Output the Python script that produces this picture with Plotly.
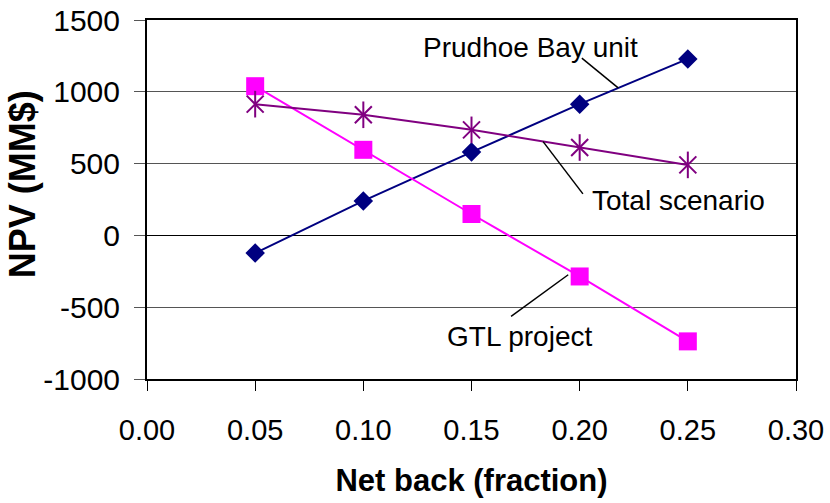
import plotly.graph_objects as go

# Net back fraction and NPV results (MM$) for each case
net_back = [0.05, 0.10, 0.15, 0.20, 0.25]
prudhoe_npv = [-123, 240, 580, 914, 1229]
gtl_npv = [1039, 596, 149, -286, -738]
total_npv = [914, 840, 735, 612, 491]

x_ticks = [0.00, 0.05, 0.10, 0.15, 0.20, 0.25, 0.30]
y_ticks = [-1000, -500, 0, 500, 1000, 1500]
y_tick_text = [str(v) for v in y_ticks]  # plain hyphen for negatives

FONT = "Liberation Sans, Arial, sans-serif"
NAVY = "#000080"
MAGENTA = "#FF00FF"
PURPLE = "#800080"

fig = go.Figure()

fig.add_trace(go.Scatter(
    x=net_back, y=prudhoe_npv, mode="lines+markers", name="Prudhoe Bay unit",
    line=dict(color=NAVY, width=2),
    marker=dict(symbol="diamond", size=15, color=NAVY),
))
fig.add_trace(go.Scatter(
    x=net_back, y=gtl_npv, mode="lines+markers", name="GTL project",
    line=dict(color=MAGENTA, width=2),
    marker=dict(symbol="square", size=18, color=MAGENTA),
))
fig.add_trace(go.Scatter(
    x=net_back, y=total_npv, mode="lines+markers", name="Total scenario",
    line=dict(color=PURPLE, width=2),
    marker=dict(symbol="x-thin-open", size=17, color=PURPLE,
                line=dict(color=PURPLE, width=2)),
))
# vertical stroke completes the star marker
fig.add_trace(go.Scatter(
    x=net_back, y=total_npv, mode="markers", showlegend=False, hoverinfo="skip",
    marker=dict(symbol="line-ns-open", size=19, color=PURPLE,
                line=dict(color=PURPLE, width=2)),
))

# callout labels with leader lines
labels = [
    dict(text="Prudhoe Bay unit", x=0.1774, y=1310, line=(0.2010, 1234, 0.2178, 1027)),
    dict(text="Total scenario", x=0.2455, y=240, line=(0.1831, 653, 0.2015, 289)),
    dict(text="GTL project", x=0.1720, y=-705, line=(0.1947, -274, 0.1683, -564)),
]
for lab in labels:
    fig.add_annotation(x=lab["x"], y=lab["y"], text=lab["text"], showarrow=False,
                       xanchor="center", yanchor="middle",
                       font=dict(family=FONT, size=28, color="black"))
    x0, y0, x1, y1 = lab["line"]
    fig.add_shape(type="line", x0=x0, y0=y0, x1=x1, y1=y1, xref="x", yref="y",
                  line=dict(color="black", width=1.5))

# y-axis title
fig.add_annotation(x=-0.192, y=0.5436, xref="paper", yref="paper",
                   text="<b>NPV (MM$)</b>", textangle=-90, showarrow=False,
                   xanchor="center", yanchor="middle",
                   font=dict(family=FONT, size=36, color="black"))

fig.update_layout(
    width=830, height=503,
    margin=dict(l=147, r=34, t=20, b=124, autoexpand=False),
    paper_bgcolor="white", plot_bgcolor="white",
    showlegend=False,
    font=dict(family=FONT, color="black"),
    xaxis=dict(
        range=[0, 0.30], tickvals=x_ticks,
        ticktext=[f"{v:.2f}" for v in x_ticks],
        ticks="outside", ticklen=10, tickwidth=1, tickcolor="black",
        showline=True, linecolor="black", linewidth=2, mirror=True,
        showgrid=False, zeroline=False, automargin=False,
        tickfont=dict(family=FONT, size=29),
        ticklabelstandoff=14,
        title=dict(text="<b>Net back (fraction)</b>",
                   font=dict(family=FONT, size=31), standoff=25),
    ),
    yaxis=dict(
        range=[-1000, 1500], tickvals=y_ticks, ticktext=y_tick_text,
        ticks="outside", ticklen=11, tickwidth=1, tickcolor="#555555",
        showline=True, linecolor="black", linewidth=2, mirror=True,
        showgrid=True, gridcolor="#555555", gridwidth=1,
        zeroline=True, zerolinecolor="black", zerolinewidth=1,
        automargin=False,
        tickfont=dict(family=FONT, size=30),
        ticklabelstandoff=8,
    ),
)

fig.write_html("out.html")
